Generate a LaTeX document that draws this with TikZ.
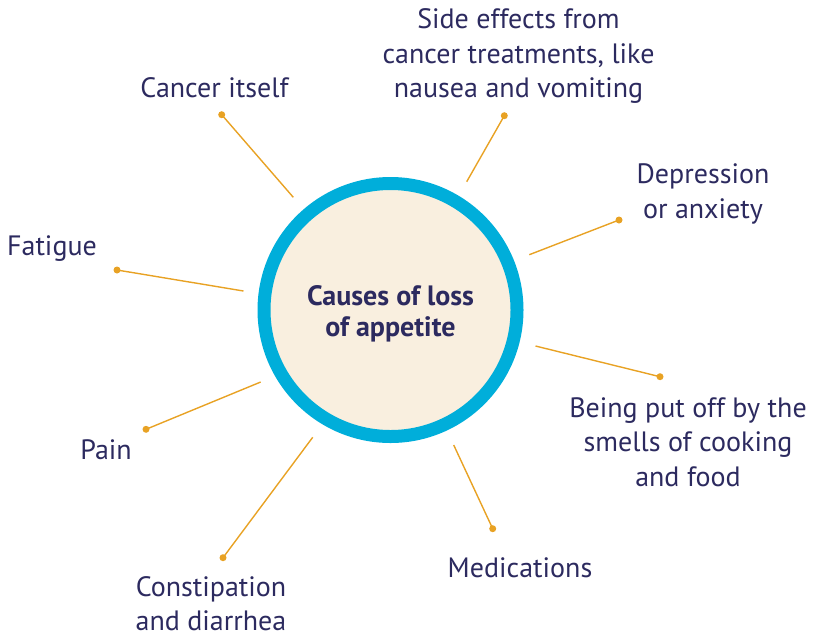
\documentclass[tikz,border=0pt]{standalone}
\usepackage{fontspec}
\setmainfont{PT Sans}
\definecolor{navy}{HTML}{2C2A5F}
\definecolor{ring}{HTML}{00AEDA}
\definecolor{cream}{HTML}{F9EFDF}
\definecolor{gold}{HTML}{E8A224}
\begin{document}
\begin{tikzpicture}[x=1pt,y=-1pt,
  lbl/.style={text=navy,align=center,inner sep=0pt,font=\fontsize{28}{34.5}\selectfont},
  spoke/.style={draw=gold,line width=1.4pt},
  dotc/.style={circle,fill=gold,inner sep=0pt,minimum size=7pt}]
\useasboundingbox (0,0) rectangle (816,638);
\node[circle,draw=ring,line width=13pt,fill=cream,minimum size=253pt,inner sep=0pt] (hub) at (390.5,310) {};
\node[text=navy,align=center,inner sep=0pt,font=\fontsize{28}{31}\selectfont\bfseries] (title) at (390.5,314) {Causes of loss\\of appetite};
% labels
\node[lbl] (t1) at (214.5,88) {Cancer itself};
\node[lbl] (t2) at (518.5,56) {Side effects from\\cancer treatments, like\\nausea and vomiting};
\node[lbl] (t3) at (703,194) {Depression\\or anxiety};
\node[lbl] (t4) at (52,249) {Fatigue};
\node[lbl] (t5) at (688,442) {Being put off by the\\smells of cooking\\and food};
\node[lbl] (t6) at (106,450) {Pain};
\node[lbl] (t7) at (520,568) {Medications};
\node[lbl] (t8) at (211,603.5) {Constipation\\and diarrhea};
% spokes
\node[dotc] (d1) at (221.7,114.7) {}; \coordinate (i1) at (293.3,197.3);
\node[dotc] (d2) at (504.3,115.7) {}; \coordinate (i2) at (466.7,181.7);
\node[dotc] (d3) at (619,220) {};     \coordinate (i3) at (529.3,254.7);
\node[dotc] (d4) at (117,270) {};     \coordinate (i4) at (243.5,291);
\node[dotc] (d5) at (660,376.7) {};   \coordinate (i5) at (535.5,346);
\node[dotc] (d6) at (146,429.3) {};   \coordinate (i6) at (260.7,382);
\node[dotc] (d7) at (492.7,528.7) {}; \coordinate (i7) at (453.7,445);
\node[dotc] (d8) at (223,557.7) {};   \coordinate (i8) at (312.7,437.3);
\foreach \k in {1,...,8} {\draw[spoke] (d\k.center) -- (i\k);}
\end{tikzpicture}
\end{document}
